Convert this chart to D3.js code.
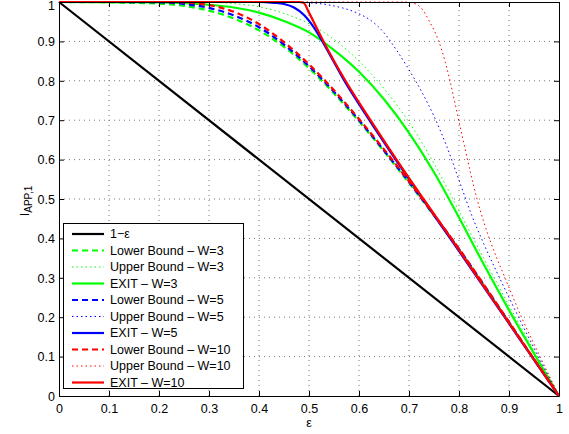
<html lang="en">
<head>
    <meta charset="UTF-8">
    <title>EXIT bounds</title>
    <style>
        body { margin: 0; background: #fff; }
        text { font-family: "Liberation Sans", Arial, sans-serif; font-size: 12.5px; fill: #000; }
        .grid line { stroke: #777; stroke-width: 1; stroke-dasharray: 1,4; }
        .curve { fill: none; }
    </style>
</head>
<body>

    <svg width="569" height="434"></svg>

    <script src="https://d3js.org/d3.v7.min.js" charset="utf-8"></script>
    <script>
        (function() {
            'use strict';

            var X_LEFT = 59, X_RIGHT = 559;
            var Y_TOP = 2, Y_BOTTOM = 396;

            // values
            var xTicks = [0, 0.1, 0.2, 0.3, 0.4, 0.5, 0.6, 0.7, 0.8, 0.9, 1];
            var yTicks = [0, 0.1, 0.2, 0.3, 0.4, 0.5, 0.6, 0.7, 0.8, 0.9, 1];

            var lineEps = [0, 1];
            var lineVal = [1, 0];

            var lbEps = [0, 0.1, 0.2, 0.25, 0.3, 0.35, 0.4, 0.45, 0.5, 0.55, 0.6, 0.65, 0.7, 0.75, 0.8, 0.85, 0.9, 0.95, 1];
            var lb3Val = [1, 0.999, 0.996, 0.99, 0.978, 0.958, 0.928, 0.886, 0.832, 0.768, 0.697, 0.621, 0.541, 0.458, 0.372, 0.28, 0.187, 0.093, 0];
            var lb5Val = [1, 1, 0.999, 0.995, 0.985, 0.966, 0.936, 0.892, 0.837, 0.772, 0.7, 0.623, 0.543, 0.459, 0.373, 0.281, 0.187, 0.093, 0];
            var lb10Val = [1, 1, 1, 0.999, 0.992, 0.975, 0.944, 0.898, 0.842, 0.776, 0.703, 0.626, 0.545, 0.46, 0.374, 0.282, 0.188, 0.094, 0];

            var ub3Eps = [0, 0.3, 0.35, 0.4, 0.45, 0.5, 0.55, 0.6, 0.65, 0.7, 0.75, 0.8, 0.85, 0.9, 0.95, 1];
            var ub3Val = [1, 0.999, 0.996, 0.988, 0.971, 0.945, 0.905, 0.85, 0.78, 0.695, 0.59, 0.47, 0.348, 0.23, 0.115, 0];

            var ex3Eps = [0, 0.2, 0.25, 0.3, 0.35, 0.4, 0.45, 0.5, 0.55, 0.6, 0.65, 0.7, 0.75, 0.8, 0.85, 0.9, 0.95, 1];
            var ex3Val = [1, 0.999, 0.997, 0.993, 0.986, 0.973, 0.952, 0.923, 0.878, 0.823, 0.753, 0.668, 0.568, 0.453, 0.333, 0.218, 0.108, 0];

            var ub5Eps = [0, 0.45, 0.5, 0.55, 0.6, 0.625, 0.65, 0.675, 0.7, 0.725, 0.75, 0.775, 0.8, 0.825, 0.85, 0.875, 0.9, 0.925, 0.95, 0.975, 1];
            var ub5Val = [1, 1, 0.998, 0.99, 0.97, 0.952, 0.922, 0.878, 0.828, 0.773, 0.71, 0.635, 0.548, 0.46, 0.385, 0.316, 0.25, 0.185, 0.122, 0.06, 0];

            var ex5Eps = [0, 0.4, 0.43, 0.45, 0.47, 0.49, 0.51, 0.529, 0.573, 0.623, 0.675, 0.729, 0.784, 0.838, 0.892, 0.946, 1];
            var ex5Val = [1, 1, 0.998, 0.995, 0.986, 0.967, 0.935, 0.895, 0.795, 0.696, 0.597, 0.497, 0.397, 0.298, 0.199, 0.099, 0];

            var ub10Eps = [0, 0.69, 0.705, 0.722, 0.742, 0.759, 0.772, 0.782, 0.792, 0.802, 0.812, 0.822, 0.835, 0.85, 0.862, 0.892, 0.925, 0.962, 1];
            var ub10Val = [1, 1, 0.998, 0.988, 0.948, 0.902, 0.85, 0.8, 0.743, 0.685, 0.628, 0.572, 0.505, 0.44, 0.395, 0.3, 0.2, 0.1, 0];

            var ex10Eps = [0, 0.48, 0.489, 0.5, 0.515, 0.529, 0.573, 0.623, 0.675, 0.729, 0.784, 0.838, 0.892, 0.946, 1];
            var ex10Val = [1, 1, 0.998, 0.973, 0.935, 0.9, 0.8, 0.7, 0.6, 0.5, 0.4, 0.3, 0.2, 0.1, 0];

            var labels = ["1\u2212\u03b5",
                          "Lower Bound \u2013 W=3", "Upper Bound \u2013 W=3", "EXIT \u2013 W=3",
                          "Lower Bound \u2013 W=5", "Upper Bound \u2013 W=5", "EXIT \u2013 W=5",
                          "Lower Bound \u2013 W=10", "Upper Bound \u2013 W=10", "EXIT \u2013 W=10"];

            var series = [
                { xs: lineEps, ys: lineVal, color: "#000000", kind: "solid" },
                { xs: lbEps,   ys: lb3Val,  color: "#00ff00", kind: "dashed" },
                { xs: ub3Eps,  ys: ub3Val,  color: "#00ff00", kind: "dotted" },
                { xs: ex3Eps,  ys: ex3Val,  color: "#00ff00", kind: "solid" },
                { xs: lbEps,   ys: lb5Val,  color: "#0000ff", kind: "dashed" },
                { xs: ub5Eps,  ys: ub5Val,  color: "#0000ff", kind: "dotted" },
                { xs: ex5Eps,  ys: ex5Val,  color: "#0000ff", kind: "solid" },
                { xs: lbEps,   ys: lb10Val, color: "#ff0000", kind: "dashed" },
                { xs: ub10Eps, ys: ub10Val, color: "#ff0000", kind: "dotted" },
                { xs: ex10Eps, ys: ex10Val, color: "#ff0000", kind: "solid" }
            ];

            var styles = {
                solid:  { width: 2.2, dash: null },
                dashed: { width: 2.2, dash: "6,4" },
                dotted: { width: 1,   dash: "1.5,3" }
            };

            var x = d3.scaleLinear().domain([0, 1]).range([X_LEFT, X_RIGHT]);
            var y = d3.scaleLinear().domain([0, 1]).range([Y_BOTTOM, Y_TOP]);

            var svg = d3.select("svg");

            // grid
            var grid = svg.append("g").attr("class", "grid");
            grid.selectAll(".gx")
                .data(xTicks.slice(1, -1))
                .enter().append("line")
                .attr("x1", function(d) { return x(d); })
                .attr("x2", function(d) { return x(d); })
                .attr("y1", Y_BOTTOM).attr("y2", Y_TOP);
            grid.selectAll(".gy")
                .data(yTicks.slice(1, -1))
                .enter().append("line")
                .attr("y1", function(d) { return y(d); })
                .attr("y2", function(d) { return y(d); })
                .attr("x1", X_LEFT).attr("x2", X_RIGHT);

            // curves
            var line = d3.line()
                .x(function(d) { return x(d[0]); })
                .y(function(d) { return y(d[1]); })
                .curve(d3.curveMonotoneX);

            series.forEach(function(s) {
                var pts = s.xs.map(function(v, i) { return [v, s.ys[i]]; });
                svg.append("path")
                    .attr("class", "curve")
                    .attr("d", line(pts))
                    .attr("stroke", s.color)
                    .attr("stroke-width", styles[s.kind].width)
                    .attr("stroke-dasharray", styles[s.kind].dash);
            });

            // axes: ticks inward on all four sides
            var fmt = function(d) { return d === 0 || d === 1 ? String(d) : d3.format(".1f")(d); };

            var axB = svg.append("g").attr("transform", "translate(0," + Y_BOTTOM + ")")
                .call(d3.axisBottom(x).tickValues(xTicks).tickFormat(fmt).tickSizeInner(-5).tickSizeOuter(0).tickPadding(9));
            var axL = svg.append("g").attr("transform", "translate(" + X_LEFT + ",0)")
                .call(d3.axisLeft(y).tickValues(yTicks).tickFormat(fmt).tickSizeInner(-5).tickSizeOuter(0).tickPadding(9));
            var axT = svg.append("g").attr("transform", "translate(0," + Y_TOP + ")")
                .call(d3.axisTop(x).tickValues(xTicks).tickFormat("").tickSizeInner(-5).tickSizeOuter(0));
            var axR = svg.append("g").attr("transform", "translate(" + X_RIGHT + ",0)")
                .call(d3.axisRight(y).tickValues(yTicks).tickFormat("").tickSizeInner(-5).tickSizeOuter(0));

            [axB, axL, axT, axR].forEach(function(a) {
                a.attr("font-family", null).attr("font-size", null);
                a.selectAll("path, line").attr("stroke", "#000");
            });

            axB.selectAll("text").attr("dy", "0.71em").attr("y", 8);
            axL.selectAll("text").attr("x", -4)
                .attr("dy", function(d) { return d === 1 ? "0.62em" : "0.35em"; });

            // axis labels
            svg.append("text")
                .attr("x", x(0.5)).attr("y", 427)
                .attr("text-anchor", "middle")
                .text("\u03b5");

            var yl = svg.append("text")
                .attr("transform", "translate(29,201) rotate(-90)")
                .attr("text-anchor", "middle");
            yl.append("tspan").text("I");
            yl.append("tspan").attr("dy", 3).style("font-size", "10px").text("APP,1");

            // legend
            var lg = svg.append("g");
            lg.append("rect")
                .attr("x", 63.5).attr("y", 223.5)
                .attr("width", 180).attr("height", 165)
                .attr("fill", "#fff").attr("stroke", "#000").attr("stroke-width", 1);

            var item = lg.selectAll(".item")
                .data(series)
                .enter().append("g")
                .attr("transform", function(d, i) { return "translate(0," + (234 + i * 16.5) + ")"; });

            item.append("line")
                .attr("x1", 72).attr("x2", 104)
                .attr("stroke", function(d) { return d.color; })
                .attr("stroke-width", function(d) { return styles[d.kind].width; })
                .attr("stroke-dasharray", function(d) { return styles[d.kind].dash; });

            item.append("text")
                .attr("x", 110).attr("dy", "0.35em")
                .text(function(d, i) { return labels[i]; });
        })();
    </script>
</body>
</html>
